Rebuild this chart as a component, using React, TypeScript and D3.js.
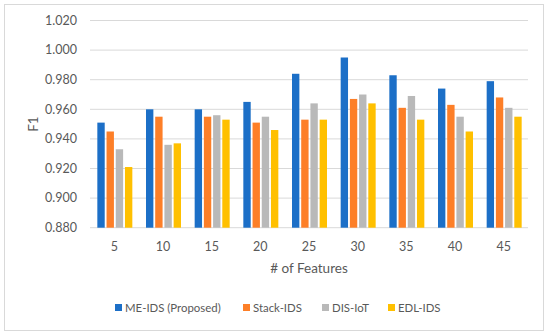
import React from "react";
import * as d3 from "d3";

const features = ["5", "10", "15", "20", "25", "30", "35", "40", "45"];
const meIds = [0.951, 0.960, 0.960, 0.965, 0.984, 0.995, 0.983, 0.974, 0.979];
const stackIds = [0.945, 0.955, 0.955, 0.951, 0.953, 0.967, 0.961, 0.963, 0.968];
const disIot = [0.933, 0.936, 0.956, 0.955, 0.964, 0.970, 0.969, 0.955, 0.961];
const edlIds = [0.921, 0.937, 0.953, 0.946, 0.953, 0.964, 0.953, 0.945, 0.955];
const yTicks = [0.88, 0.9, 0.92, 0.94, 0.96, 0.98, 1.0, 1.02];

const series = [
  { name: "ME-IDS (Proposed)", values: meIds, color: "#1c6fc7" },
  { name: "Stack-IDS", values: stackIds, color: "#fd7f28" },
  { name: "DIS-IoT", values: disIot, color: "#b9b9b9" },
  { name: "EDL-IDS", values: edlIds, color: "#ffc000" },
];

const W = 550;
const H = 335;
const margin = { top: 20.5, right: 22, bottom: 107.3, left: 90 };
const font = "Lato, 'Liberation Sans', sans-serif";
const textColor = "#595959";

export default function App() {
  const x = d3
    .scaleBand()
    .domain(features)
    .range([margin.left, W - margin.right]);
  const y = d3
    .scaleLinear()
    .domain([0.88, 1.02])
    .range([H - margin.bottom, margin.top]);
  const groupW = 35;
  const inner = d3
    .scaleBand()
    .domain(series.map((s) => s.name))
    .range([0, groupW])
    .paddingInner(0.2);
  const groupOffset = (x.bandwidth() - groupW) / 2 + 0.5;

  // legend entries sit where the reference puts them
  const legendX = [115, 243, 322, 388];

  return (
    <svg width={W} height={H} style={{ position: "absolute", left: 0, top: 0 }}>
      <rect x={0} y={0} width={W} height={H} fill="#fff" />
      <rect x={4.5} y={4.5} width={539} height={326} fill="#fff" stroke="#d9d9d9" />
      {yTicks.map((t) => (
        <g key={t}>
          <line
            x1={margin.left}
            x2={W - margin.right}
            y1={y(t)}
            y2={y(t)}
            stroke="#d9d9d9"
            strokeWidth={1}
          />
          <text
            x={77}
            y={y(t)}
            dy="0.35em"
            textAnchor="end"
            fontFamily={font}
            fontSize={12.5}
            fill={textColor}
          >
            {d3.format(".3f")(t)}
          </text>
        </g>
      ))}
      {features.map((f, i) => (
        <g key={f} transform={`translate(${x(f)! + groupOffset},0)`}>
          {series.map((s) => (
            <rect
              key={s.name}
              x={inner(s.name)}
              y={y(s.values[i])}
              width={inner.bandwidth()}
              height={y(0.88) - y(s.values[i])}
              fill={s.color}
            />
          ))}
        </g>
      ))}
      {features.map((f) => (
        <text
          key={f}
          x={x(f)! + x.bandwidth() / 2}
          y={247}
          dy="0.35em"
          textAnchor="middle"
          fontFamily={font}
          fontSize={12.5}
          fill={textColor}
        >
          {f}
        </text>
      ))}
      <text
        x={309}
        y={268}
        dy="0.35em"
        textAnchor="middle"
        fontFamily={font}
        fontSize={13.5}
        fill={textColor}
      >
        # of Features
      </text>
      <text
        transform={`translate(33,${(y(0.88) + y(1.02)) / 2}) rotate(-90)`}
        dy="0.35em"
        textAnchor="middle"
        fontFamily={font}
        fontSize={13.5}
        fill={textColor}
      >
        F1
      </text>
      {series.map((s, i) => (
        <g key={s.name} transform={`translate(${legendX[i]},307.5)`}>
          <rect x={0} y={-3.5} width={7} height={7} fill={s.color} />
          <text
            x={10}
            y={0}
            dy="0.35em"
            fontFamily={font}
            fontSize={11.4}
            fill={textColor}
          >
            {s.name}
          </text>
        </g>
      ))}
    </svg>
  );
}
